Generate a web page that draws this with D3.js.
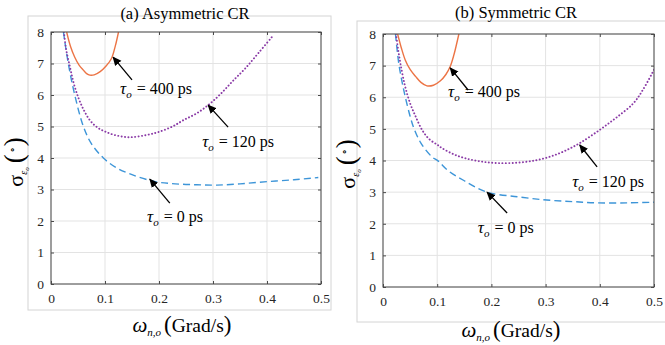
<!DOCTYPE html>
<html><head><meta charset="utf-8">
<script src="https://cdn.jsdelivr.net/npm/d3@7"></script>
<style>body{margin:0;background:#fff} svg{display:block} text{font-family:'Liberation Serif','Times New Roman',serif}</style>
</head><body>
<svg id="chart" width="665" height="345"></svg>
<script>
// ---------- data ----------
const xTicks = [0, 0.1, 0.2, 0.3, 0.4, 0.5];
const yTicks = [0, 1, 2, 3, 4, 5, 6, 7, 8];
const titles = ["(a) Asymmetric CR", "(b) Symmetric CR"];
const tauLabels = ["0", "120", "400"];

// (a) Asymmetric CR
const aOmegaT0 = [0.023, 0.032, 0.044, 0.06, 0.075, 0.097, 0.12, 0.15, 0.193, 0.23, 0.27, 0.307, 0.35, 0.4, 0.45, 0.495];
const aSigmaT0 = [8.0, 7.0, 6.0, 5.0, 4.45, 4.0, 3.7, 3.47, 3.25, 3.18, 3.15, 3.14, 3.18, 3.25, 3.31, 3.38];
const aOmegaT120 = [0.024, 0.028, 0.035, 0.042, 0.051, 0.06, 0.072, 0.085, 0.1, 0.12, 0.146, 0.177, 0.2, 0.225, 0.245, 0.27, 0.294, 0.315, 0.337, 0.36, 0.385, 0.412];
const aSigmaT120 = [8.0, 7.45, 6.9, 6.38, 5.9, 5.55, 5.2, 4.98, 4.84, 4.72, 4.66, 4.73, 4.83, 5.0, 5.2, 5.42, 5.72, 6.05, 6.45, 6.85, 7.35, 7.9];
const aOmegaT400 = [0.029, 0.036, 0.044, 0.052, 0.06, 0.066, 0.072, 0.08, 0.091, 0.102, 0.112, 0.119, 0.125];
const aSigmaT400 = [8.0, 7.55, 7.2, 6.95, 6.79, 6.68, 6.63, 6.64, 6.74, 6.92, 7.16, 7.55, 8.0];
// annotations (a): [omega, sigma]
const aLabelAt = [[0.178, 1.97], [0.28, 4.35], [0.128, 6.03]];
const aArrowFrom = [[0.22, 2.57], [0.328, 4.98], [0.15, 6.48]];
const aArrowTo = [[0.183, 3.33], [0.291, 5.68], [0.115, 7.2]];

// (b) Symmetric CR
const bOmegaT0 = [0.023, 0.029, 0.035, 0.041, 0.05, 0.057, 0.07, 0.09, 0.102, 0.12, 0.15, 0.192, 0.25, 0.302, 0.35, 0.395, 0.45, 0.5];
const bSigmaT0 = [8.0, 7.08, 6.5, 6.02, 5.4, 5.02, 4.55, 4.12, 3.98, 3.68, 3.36, 3.0, 2.85, 2.75, 2.7, 2.66, 2.66, 2.68];
const bOmegaT120 = [0.024, 0.028, 0.032, 0.04, 0.05, 0.06, 0.072, 0.085, 0.1, 0.109, 0.13, 0.152, 0.18, 0.21, 0.247, 0.28, 0.308, 0.335, 0.363, 0.4, 0.43, 0.462, 0.48, 0.5];
const bSigmaT120 = [8.0, 7.5, 7.08, 6.4, 5.81, 5.4, 4.97, 4.68, 4.5, 4.39, 4.2, 4.07, 3.97, 3.92, 3.93, 4.0, 4.12, 4.3, 4.55, 4.97, 5.35, 5.81, 6.25, 6.87];
const bOmegaT400 = [0.027, 0.034, 0.041, 0.05, 0.06, 0.07, 0.081, 0.093, 0.106, 0.116, 0.124, 0.131, 0.136, 0.14];
const bSigmaT400 = [8.0, 7.55, 7.18, 6.88, 6.66, 6.47, 6.36, 6.38, 6.52, 6.72, 6.97, 7.35, 7.7, 8.0];
const bLabelAt = [[0.175, 1.71], [0.349, 3.16], [0.12, 6.01]];
const bArrowFrom = [[0.229, 2.34], [0.395, 3.8], [0.157, 6.23]];
const bArrowTo = [[0.192, 3.0], [0.363, 4.49], [0.124, 6.93]];

// ---------- drawing ----------
const svg = d3.select("#chart");
const serif = "'Liberation Serif','Times New Roman',serif";
const colors = ["#3d95d8", "#8a3aa6", "#ec7445"];

svg.append("defs").append("marker")
  .attr("id", "ah").attr("viewBox", "0 0 10 10").attr("refX", 9).attr("refY", 5)
  .attr("markerWidth", 9).attr("markerHeight", 9).attr("markerUnits", "userSpaceOnUse")
  .attr("orient", "auto")
  .append("path").attr("d", "M0,0.5 L10,5 L0,9.5 Z").attr("fill", "#000");

const panels = [
  { frame: [28, 16, 303, 294], box: [51, 321, 32, 284], title: [185, 19], yl: [23, 162], xl: [182, 332],
    series: [[aOmegaT0, aSigmaT0], [aOmegaT120, aSigmaT120], [aOmegaT400, aSigmaT400]],
    lab: aLabelAt, from: aArrowFrom, to: aArrowTo },
  { frame: [357, 21, 320, 301], box: [383, 654, 34, 287], title: [516, 18], yl: [355, 164], xl: [511, 337],
    series: [[bOmegaT0, bSigmaT0], [bOmegaT120, bSigmaT120], [bOmegaT400, bSigmaT400]],
    lab: bLabelAt, from: bArrowFrom, to: bArrowTo }
];

panels.forEach((p, i) => {
  const g = svg.append("g");
  g.append("rect").attr("x", p.frame[0]).attr("y", p.frame[1]).attr("width", p.frame[2]).attr("height", p.frame[3])
    .attr("fill", "none").attr("stroke", "#d4d4d4").attr("stroke-width", 1);

  const x = d3.scaleLinear().domain([0, 0.5]).range([p.box[0], p.box[1]]);
  const y = d3.scaleLinear().domain([0, 8]).range([p.box[3], p.box[2]]);

  // grid
  g.append("g").selectAll("line").data(xTicks).join("line")
    .attr("x1", d => x(d)).attr("x2", d => x(d)).attr("y1", y(0)).attr("y2", y(8))
    .attr("stroke", "#e3e3e3").attr("stroke-width", 1);
  g.append("g").selectAll("line").data(yTicks).join("line")
    .attr("x1", x(0)).attr("x2", x(0.5)).attr("y1", d => y(d)).attr("y2", d => y(d))
    .attr("stroke", "#e3e3e3").attr("stroke-width", 1);

  // clip
  const cid = "clip" + i;
  svg.append("clipPath").attr("id", cid).append("rect")
    .attr("x", x(0)).attr("y", y(8)).attr("width", x(0.5) - x(0)).attr("height", y(0) - y(8));

  const line = d3.line().curve(d3.curveCatmullRom.alpha(0.5));
  const styles = [
    { dash: "7,4", w: 1.4, cap: "butt" },
    { dash: "0.1,3.3", w: 1.9, cap: "round" },
    { dash: null, w: 1.4, cap: "butt" }
  ];
  p.series.forEach((s, k) => {
    const pts = s[0].map((o, j) => [x(o), y(s[1][j])]);
    g.append("path").attr("clip-path", `url(#${cid})`).attr("d", line(pts))
      .attr("fill", "none").attr("stroke", colors[k]).attr("stroke-width", styles[k].w)
      .attr("stroke-dasharray", styles[k].dash).attr("stroke-linecap", styles[k].cap);
  });

  // axes box + ticks
  const axG = g.append("g");
  axG.append("rect").attr("x", x(0)).attr("y", y(8)).attr("width", x(0.5) - x(0)).attr("height", y(0) - y(8))
    .attr("fill", "none").attr("stroke", "#4a4a4a").attr("stroke-width", 1);
  const bottom = d3.axisBottom(x).tickValues(xTicks).tickSize(-3).tickPadding(9).tickFormat(d3.format("~g"));
  const left = d3.axisLeft(y).tickValues(yTicks).tickSize(-3).tickPadding(7).tickFormat(d3.format("d"));
  const top = d3.axisTop(x).tickValues(xTicks).tickSize(-3).tickFormat("");
  const right = d3.axisRight(y).tickValues(yTicks).tickSize(-3).tickFormat("");
  [[bottom, `translate(0,${y(0)})`], [left, `translate(${x(0)},0)`], [top, `translate(0,${y(8)})`], [right, `translate(${x(0.5)},0)`]]
    .forEach(([ax, tr]) => {
      const a = axG.append("g").attr("transform", tr).call(ax);
      a.attr("font-family", null).attr("font-size", null);
      a.select(".domain").remove();
      a.selectAll(".tick line").attr("stroke", "#4a4a4a");
      a.selectAll("text").style("font-family", serif).style("font-size", "13.5px").attr("fill", "#262626");
    });

  // title
  g.append("text").attr("x", p.title[0]).attr("y", p.title[1]).attr("text-anchor", "middle")
    .style("font-size", "16.5px").attr("fill", "#000").text(titles[i]);

  // y label
  const yt = g.append("text").attr("transform", `translate(${p.yl[0]},${p.yl[1]}) rotate(-90)`)
    .attr("text-anchor", "middle").attr("fill", "#000");
  yt.append("tspan").style("font-size", "22px").text("σ");
  yt.append("tspan").style("font-size", "10px").style("font-style", "italic").attr("dy", 4).text("ε");
  yt.append("tspan").style("font-size", "7px").style("font-style", "italic").attr("dy", 2).text("o");
  yt.append("tspan").style("font-size", "27px").attr("dy", -6).attr("dx", 4).text("(");
  yt.append("tspan").style("font-size", "10px").attr("dy", -8).attr("dx", 1).text("∘");
  yt.append("tspan").style("font-size", "27px").attr("dy", 8).attr("dx", 1).text(")");

  // x label
  const xt = g.append("text").attr("x", p.xl[0]).attr("y", p.xl[1]).attr("text-anchor", "middle")
    .attr("fill", "#000");
  xt.append("tspan").style("font-size", "21px").style("font-style", "italic").text("ω");
  xt.append("tspan").style("font-size", "11px").style("font-style", "italic").attr("dy", 4).text("n,o");
  xt.append("tspan").style("font-size", "23px").attr("dy", -4).attr("dx", 3).text("(");
  xt.append("tspan").style("font-size", "19.5px").text("Grad/s");
  xt.append("tspan").style("font-size", "23px").text(")");

  // annotations
  p.lab.forEach((L, k) => {
    g.append("line").attr("x1", x(p.from[k][0])).attr("y1", y(p.from[k][1]))
      .attr("x2", x(p.to[k][0])).attr("y2", y(p.to[k][1]))
      .attr("stroke", "#000").attr("stroke-width", 1.3).attr("marker-end", "url(#ah)");
    const t = g.append("text").attr("x", x(L[0])).attr("y", y(L[1])).attr("fill", "#000");
    t.append("tspan").style("font-size", "17px").style("font-style", "italic").text("τ");
    t.append("tspan").style("font-size", "11px").style("font-style", "italic").attr("dy", 4).text("o");
    t.append("tspan").style("font-size", "16px").attr("dy", -4).attr("dx", 5).text("= " + tauLabels[k] + " ps");
  });
});
</script>
</body></html>
